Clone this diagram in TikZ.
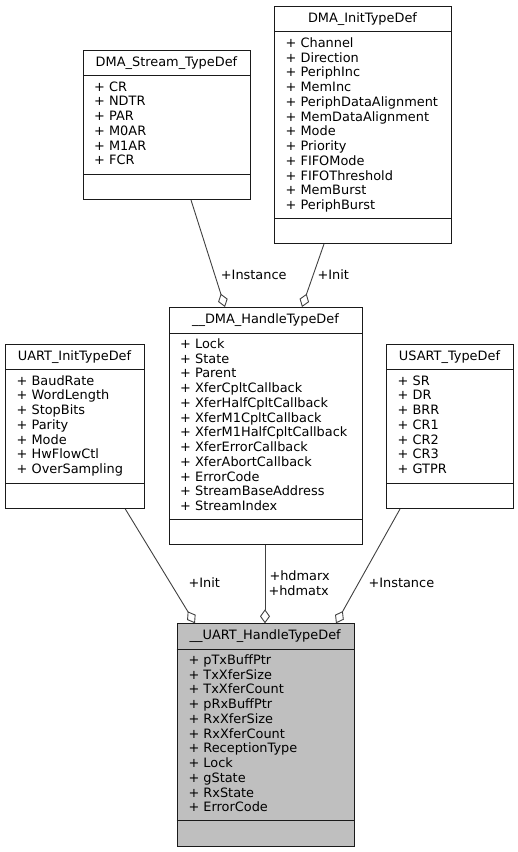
\documentclass[tikz,border=0pt]{standalone}
\usepackage{fontspec}
\setmainfont{DejaVu Sans}
\usetikzlibrary{arrows.meta}
\definecolor{edgecol}{HTML}{404040}
\definecolor{boxcol}{HTML}{1A1A1A}
\definecolor{fillgray}{HTML}{BFBFBF}
\tikzset{
  x=1pt,y=1pt,
  umlbox/.style={draw=boxcol,line width=1pt,rectangle,inner sep=0pt,anchor=north west},
  septext/.style={line width=1pt,draw=boxcol},
  ttl/.style={anchor=base,inner sep=0pt,font=\fontsize{12.9}{14.76}\selectfont},
  attr/.style={anchor=base west,inner sep=0pt,font=\fontsize{12.9}{14.76}\selectfont},
  elabel/.style={anchor=base west,inner sep=0pt,font=\fontsize{12.9}{14.76}\selectfont},
  conn/.style={draw=edgecol,line width=0.9pt,-{Diamond[open,length=14pt,width=10pt,line width=0.9pt]}},
}
\begin{document}
\begin{tikzpicture}
\useasboundingbox (0,0) rectangle (518,-852);

% DMA_Stream_TypeDef
\node[umlbox,minimum width=167pt,minimum height=149pt] (stream) at (83,-50) {};
\draw[septext] (83,-75) -- (250,-75);
\draw[septext] (83,-174) -- (250,-174);
\node[ttl] (streamt) at (166.5,-66) {DMA\_Stream\_TypeDef};
\foreach \t [count=\i from 0] in {CR,NDTR,PAR,M0AR,M1AR,FCR}
  \node[attr] (streama\i) at (94,{-91-14.76*\i}) {+ \t};

% DMA_InitTypeDef
\node[umlbox,minimum width=176.5pt,minimum height=237pt] (init) at (274.3,-6) {};
\draw[septext] (274.3,-31) -- (450.8,-31);
\draw[septext] (274.3,-218) -- (450.8,-218);
\node[ttl] (initt) at (362.5,-22) {DMA\_InitTypeDef};
\foreach \t [count=\i from 0] in {Channel,Direction,PeriphInc,MemInc,PeriphDataAlignment,MemDataAlignment,Mode,Priority,FIFOMode,FIFOThreshold,MemBurst,PeriphBurst}
  \node[attr] (inita\i) at (285.5,{-47.3-14.76*\i}) {+ \t};

% __DMA_HandleTypeDef
\node[umlbox,minimum width=193pt,minimum height=237pt] (dmah) at (169,-307) {};
\draw[septext] (169,-333) -- (362,-333);
\draw[septext] (169,-519) -- (362,-519);
\node[ttl] (dmaht) at (265.5,-323) {\_\_DMA\_HandleTypeDef};
\foreach \t [count=\i from 0] in {Lock,State,Parent,XferCpltCallback,XferHalfCpltCallback,XferM1CpltCallback,XferM1HalfCpltCallback,XferErrorCallback,XferAbortCallback,ErrorCode,StreamBaseAddress,StreamIndex}
  \node[attr] (dmaha\i) at (180,{-348.3-14.76*\i}) {+ \t};

% UART_InitTypeDef
\node[umlbox,minimum width=139pt,minimum height=164pt] (uinit) at (5,-344) {};
\draw[septext] (5,-369) -- (144,-369);
\draw[septext] (5,-483) -- (144,-483);
\node[ttl] (uinitt) at (74.5,-360) {UART\_InitTypeDef};
\foreach \t [count=\i from 0] in {BaudRate,WordLength,StopBits,Parity,Mode,HwFlowCtl,OverSampling}
  \node[attr] (uinita\i) at (16.5,{-385-14.76*\i}) {+ \t};

% USART_TypeDef
\node[umlbox,minimum width=127pt,minimum height=164pt] (usart) at (386,-344) {};
\draw[septext] (386,-369) -- (513,-369);
\draw[septext] (386,-483) -- (513,-483);
\node[ttl] (usartt) at (449.5,-360) {USART\_TypeDef};
\foreach \t [count=\i from 0] in {SR,DR,BRR,CR1,CR2,CR3,GTPR}
  \node[attr] (usarta\i) at (397.5,{-385-14.76*\i}) {+ \t};

% __UART_HandleTypeDef
\node[umlbox,fill=fillgray,minimum width=177pt,minimum height=222.4pt] (uh) at (176.7,-623.3) {};
\draw[septext] (176.7,-649.3) -- (353.7,-649.3);
\draw[septext] (176.7,-820) -- (353.7,-820);
\node[ttl] (uht) at (265.2,-639.3) {\_\_UART\_HandleTypeDef};
\foreach \t [count=\i from 0] in {pTxBuffPtr,TxXferSize,TxXferCount,pRxBuffPtr,RxXferSize,RxXferCount,ReceptionType,Lock,gState,RxState,ErrorCode}
  \node[attr] (uha\i) at (188.3,{-664.3-14.76*\i}) {+ \t};

% connectors
\draw[conn] ([xshift=108pt]stream.south west) -- ([xshift=56pt]dmah.north west);
\draw[conn] ([xshift=49.7pt]init.south west) -- ([xshift=133pt]dmah.north west);
\draw[conn] ([xshift=120.3pt]uinit.south west) -- ([xshift=18.3pt]uh.north west);
\draw[conn] ([xshift=96pt]dmah.south west) -- ([xshift=88.3pt]uh.north west);
\draw[conn] ([xshift=14pt]usart.south west) -- ([xshift=159.3pt]uh.north west);

% edge labels
\node[elabel] (l1) at (220.7,-279) {+Instance};
\node[elabel] (l2) at (317.3,-279) {+Init};
\node[elabel] (l3) at (188.3,-587.3) {+Init};
\node[elabel] (l4) at (269.3,-580) {+hdmarx};
\node[elabel] (l5) at (268.3,-595) {+hdmatx};
\node[elabel] (l6) at (368.3,-587.3) {+Instance};
\end{tikzpicture}
\end{document}
